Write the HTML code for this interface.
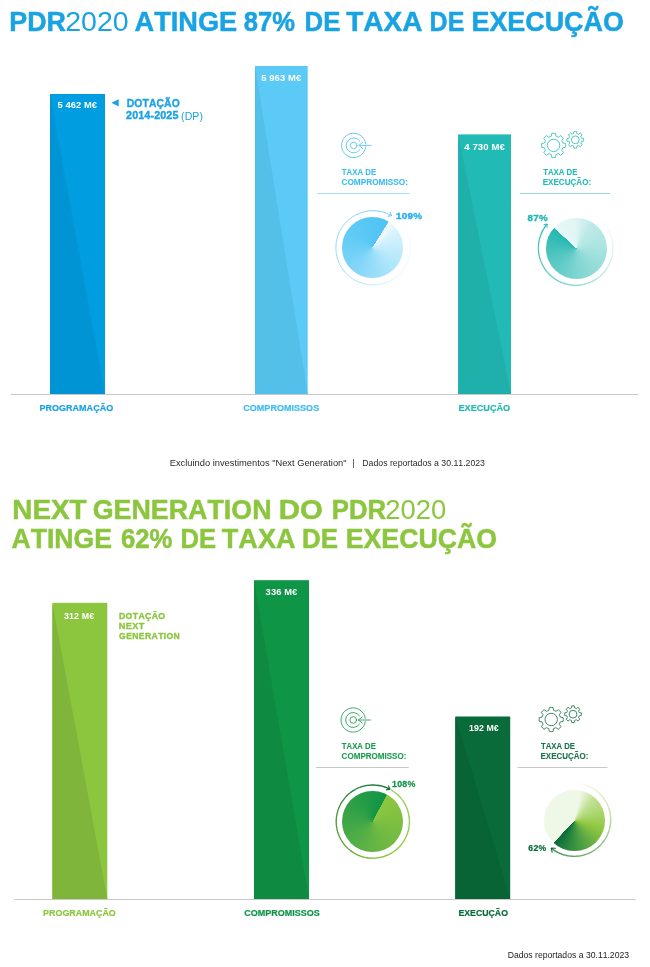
<!DOCTYPE html>
<html lang="pt"><head><meta charset="utf-8"><title>PDR2020</title>
<style>
html,body{margin:0;padding:0;background:#fff}
body{width:650px;height:967px;position:relative;overflow:hidden;font-family:"Liberation Sans",sans-serif}
svg{position:absolute;left:0;top:0}
svg text{font-family:"Liberation Sans",sans-serif;white-space:pre;font-kerning:none}
.pie{position:absolute;border-radius:50%}
</style></head><body>
<div class="pie" style="left:342.30px;top:217.00px;width:61.00px;height:61.00px;background:conic-gradient(from 32.4deg,#f6fcff 0deg,#d6f2fd 25deg,#b6e8fb 85deg,#95dcf9 150deg,#74d1f7 215deg,#5ecaf6 275deg,#50c4f4 359.2deg,#f6fcff 360deg)"></div>
<div class="pie" style="left:545.60px;top:217.60px;width:61.00px;height:61.00px;background:conic-gradient(from 313deg,#e6f7f6 0deg,#e0f5f4 45deg,#bdeae8 78deg,#a9e4e1 135deg,#7fd5d1 225deg,#45c2bd 315deg,#25b8b3 359.2deg,#e6f7f6 360deg)"></div>
<div class="pie" style="left:342.20px;top:791.40px;width:60.60px;height:60.60px;background:conic-gradient(from 28.8deg,#8cc63f 0deg,#6fb943 120deg,#3fa647 240deg,#0f9546 359.2deg,#8cc63f 360deg)"></div>
<div class="pie" style="left:544.00px;top:790.20px;width:60.60px;height:60.60px;background:conic-gradient(from 0deg,#eff7e6 0deg,#eff7e6 12deg,#c2e195 40deg,#a8d56a 75deg,#8cc63f 110deg,#5da844 150deg,#2d8a40 190deg,#0a6a3a 222.6deg,#eff7e6 223.4deg,#eff7e6 360deg)"></div>
<svg width="650" height="967" viewBox="0 0 650 967">
<path d="M11 394.5H638.4M14.4 899.5H635.2" stroke="#c8c8c8" stroke-width="1" fill="none"/>
<path d="M316 767.5H408.8M517.5 767.5H607.5" stroke="#c8c8c8" stroke-width="1" fill="none"/>
<path d="M317 193.5H409.6" stroke="#a6dff7" stroke-width="1" fill="none"/>
<path d="M520 193.5H610.4" stroke="#97dbd8" stroke-width="1" fill="none"/>
<rect x="50" y="94" width="55.00" height="300.00" fill="#009de0"/><path d="M50 94L50 394L105 394Z" fill="#0094d4"/>
<rect x="255" y="66" width="52.70" height="328.00" fill="#5bcaf6"/><path d="M255 66L255 394L307.7 394Z" fill="#53c0ea"/>
<rect x="458.2" y="134.4" width="52.80" height="259.60" fill="#22bab5"/><path d="M458.2 134.4L458.2 394L511 394Z" fill="#20b0ab"/>
<rect x="52.4" y="602.8" width="54.90" height="296.20" fill="#8cc63f"/><path d="M52.4 602.8L52.4 899L107.3 899Z" fill="#7fb53a"/>
<rect x="254" y="580.2" width="55.00" height="318.80" fill="#0f9546"/><path d="M254 580.2L254 899L309 899Z" fill="#0e8b41"/>
<rect x="455.3" y="716.5" width="54.90" height="182.50" fill="#096b39"/><path d="M455.3 716.5L455.3 899L510.2 899Z" fill="#086434"/>
<path d="M111.4 102.8L118.7 99.2V106.4Z" fill="#1aa3e2"/>
<g fill="none" stroke="#55c6f3" stroke-width="0.9" stroke-linecap="round" stroke-linejoin="round"><path d="M365.81 146.89A12.2 12.2 0 1 1 365.81 143.91"/><path d="M359.84 149.70A7.5 7.5 0 1 1 359.84 141.10"/><circle cx="353.7" cy="145.4" r="3.3"/><path d="M359.00 145.4L371.00 145.4M362.70 142.3L359.00 145.4L362.70 148.5"/></g>
<g fill="none" stroke="#3fc2bd" stroke-width="0.9" stroke-linejoin="round"><path d="M551.19 136.31L551.71 133.45A12.1 12.1 0 0 1 555.49 133.45L556.01 136.31A9.4 9.4 0 0 1 558.32 137.27L560.71 135.61A12.1 12.1 0 0 1 563.39 138.29L561.73 140.68A9.4 9.4 0 0 1 562.69 142.99L565.55 143.51A12.1 12.1 0 0 1 565.55 147.29L562.69 147.81A9.4 9.4 0 0 1 561.73 150.12L563.39 152.51A12.1 12.1 0 0 1 560.71 155.19L558.32 153.53A9.4 9.4 0 0 1 556.01 154.49L555.49 157.35A12.1 12.1 0 0 1 551.71 157.35L551.19 154.49A9.4 9.4 0 0 1 548.88 153.53L546.49 155.19A12.1 12.1 0 0 1 543.81 152.51L545.47 150.12A9.4 9.4 0 0 1 544.51 147.81L541.65 147.29A12.1 12.1 0 0 1 541.65 143.51L544.51 142.99A9.4 9.4 0 0 1 545.47 140.68L543.81 138.29A12.1 12.1 0 0 1 546.49 135.61L548.88 137.27A9.4 9.4 0 0 1 551.19 136.31Z"/><circle cx="553.6" cy="145.4" r="6.2"/><path d="M573.66 133.61L573.99 131.50A8.4 8.4 0 0 1 576.61 131.50L576.94 133.61A6.4 6.4 0 0 1 578.51 134.27L580.24 133.00A8.4 8.4 0 0 1 582.10 134.86L580.83 136.59A6.4 6.4 0 0 1 581.49 138.16L583.60 138.49A8.4 8.4 0 0 1 583.60 141.11L581.49 141.44A6.4 6.4 0 0 1 580.83 143.01L582.10 144.74A8.4 8.4 0 0 1 580.24 146.60L578.51 145.33A6.4 6.4 0 0 1 576.94 145.99L576.61 148.10A8.4 8.4 0 0 1 573.99 148.10L573.66 145.99A6.4 6.4 0 0 1 572.09 145.33L570.36 146.60A8.4 8.4 0 0 1 568.50 144.74L569.77 143.01A6.4 6.4 0 0 1 569.11 141.44L567.00 141.11A8.4 8.4 0 0 1 567.00 138.49L569.11 138.16A6.4 6.4 0 0 1 569.77 136.59L568.50 134.86A8.4 8.4 0 0 1 570.36 133.00L572.09 134.27A6.4 6.4 0 0 1 573.66 133.61Z"/><circle cx="575.3" cy="139.8" r="3.9"/></g>
<g fill="none" stroke="#2aa25b" stroke-width="0.9" stroke-linecap="round" stroke-linejoin="round"><path d="M365.31 721.49A12.2 12.2 0 1 1 365.31 718.51"/><path d="M359.34 724.30A7.5 7.5 0 1 1 359.34 715.70"/><circle cx="353.2" cy="720" r="3.3"/><path d="M358.50 720L370.50 720M362.20 716.9L358.50 720L362.20 723.1"/></g>
<g fill="none" stroke="#2d7d55" stroke-width="0.9" stroke-linejoin="round"><path d="M548.79 710.41L549.31 707.55A12.1 12.1 0 0 1 553.09 707.55L553.61 710.41A9.4 9.4 0 0 1 555.92 711.37L558.31 709.71A12.1 12.1 0 0 1 560.99 712.39L559.33 714.78A9.4 9.4 0 0 1 560.29 717.09L563.15 717.61A12.1 12.1 0 0 1 563.15 721.39L560.29 721.91A9.4 9.4 0 0 1 559.33 724.22L560.99 726.61A12.1 12.1 0 0 1 558.31 729.29L555.92 727.63A9.4 9.4 0 0 1 553.61 728.59L553.09 731.45A12.1 12.1 0 0 1 549.31 731.45L548.79 728.59A9.4 9.4 0 0 1 546.48 727.63L544.09 729.29A12.1 12.1 0 0 1 541.41 726.61L543.07 724.22A9.4 9.4 0 0 1 542.11 721.91L539.25 721.39A12.1 12.1 0 0 1 539.25 717.61L542.11 717.09A9.4 9.4 0 0 1 543.07 714.78L541.41 712.39A12.1 12.1 0 0 1 544.09 709.71L546.48 711.37A9.4 9.4 0 0 1 548.79 710.41Z"/><circle cx="551.2" cy="719.5" r="6.2"/><path d="M571.36 708.01L571.69 705.90A8.4 8.4 0 0 1 574.31 705.90L574.64 708.01A6.4 6.4 0 0 1 576.21 708.67L577.94 707.40A8.4 8.4 0 0 1 579.80 709.26L578.53 710.99A6.4 6.4 0 0 1 579.19 712.56L581.30 712.89A8.4 8.4 0 0 1 581.30 715.51L579.19 715.84A6.4 6.4 0 0 1 578.53 717.41L579.80 719.14A8.4 8.4 0 0 1 577.94 721.00L576.21 719.73A6.4 6.4 0 0 1 574.64 720.39L574.31 722.50A8.4 8.4 0 0 1 571.69 722.50L571.36 720.39A6.4 6.4 0 0 1 569.79 719.73L568.06 721.00A8.4 8.4 0 0 1 566.20 719.14L567.47 717.41A6.4 6.4 0 0 1 566.81 715.84L564.70 715.51A8.4 8.4 0 0 1 564.70 712.89L566.81 712.56A6.4 6.4 0 0 1 567.47 710.99L566.20 709.26A8.4 8.4 0 0 1 568.06 707.40L569.79 708.67A6.4 6.4 0 0 1 571.36 708.01Z"/><circle cx="573" cy="714.2" r="3.9"/></g>
<g fill="none" stroke-width="1.0"><path d="M397.05 219.55A37.1 37.1 0 0 1 399.18 221.52" stroke="#ffffff"/><path d="M398.91 221.24A37.1 37.1 0 0 1 400.91 223.35" stroke="#feffff"/><path d="M400.65 223.06A37.1 37.1 0 0 1 402.50 225.30" stroke="#fdfeff"/><path d="M402.26 224.99A37.1 37.1 0 0 1 403.96 227.35" stroke="#fcfeff"/><path d="M403.74 227.03A37.1 37.1 0 0 1 405.27 229.50" stroke="#fbfeff"/><path d="M405.08 229.16A37.1 37.1 0 0 1 406.44 231.73" stroke="#fafdff"/><path d="M406.27 231.38A37.1 37.1 0 0 1 407.45 234.04" stroke="#f9fdff"/><path d="M407.31 233.68A37.1 37.1 0 0 1 408.31 236.40" stroke="#f8fdff"/><path d="M408.19 236.03A37.1 37.1 0 0 1 409.00 238.82" stroke="#f7fcff"/><path d="M408.90 238.45A37.1 37.1 0 0 1 409.52 241.29" stroke="#f6fcff"/><path d="M409.45 240.90A37.1 37.1 0 0 1 409.88 243.78" stroke="#f5fcff"/><path d="M409.84 243.39A37.1 37.1 0 0 1 410.07 246.29" stroke="#f4fcff"/><path d="M410.05 245.90A37.1 37.1 0 0 1 410.09 248.81" stroke="#f3fbff"/><path d="M410.09 248.42A37.1 37.1 0 0 1 409.93 251.32" stroke="#f2fbfe"/><path d="M409.97 250.93A37.1 37.1 0 0 1 409.61 253.82" stroke="#f2fbfe"/><path d="M409.67 253.43A37.1 37.1 0 0 1 409.12 256.29" stroke="#f1fafe"/><path d="M409.20 255.91A37.1 37.1 0 0 1 408.46 258.72" stroke="#f0fafe"/><path d="M408.57 258.34A37.1 37.1 0 0 1 407.64 261.10" stroke="#effafe"/><path d="M407.77 260.73A37.1 37.1 0 0 1 406.65 263.41" stroke="#eefafe"/><path d="M406.82 263.06A37.1 37.1 0 0 1 405.52 265.66" stroke="#edf9fe"/><path d="M405.70 265.32A37.1 37.1 0 0 1 404.23 267.82" stroke="#ecf9fe"/><path d="M404.44 267.50A37.1 37.1 0 0 1 402.80 269.90" stroke="#ebf9fe"/><path d="M403.03 269.58A37.1 37.1 0 0 1 401.23 271.87" stroke="#eaf8fe"/><path d="M401.48 271.57A37.1 37.1 0 0 1 399.54 273.73" stroke="#e9f8fe"/><path d="M399.81 273.45A37.1 37.1 0 0 1 397.72 275.47" stroke="#e8f8fe"/><path d="M398.01 275.21A37.1 37.1 0 0 1 395.78 277.08" stroke="#e7f7fe"/><path d="M396.09 276.84A37.1 37.1 0 0 1 393.75 278.56" stroke="#e6f7fe"/><path d="M394.07 278.34A37.1 37.1 0 0 1 391.61 279.89" stroke="#e4f6fe"/><path d="M391.95 279.70A37.1 37.1 0 0 1 389.39 281.08" stroke="#e1f5fe"/><path d="M389.74 280.91A37.1 37.1 0 0 1 387.10 282.12" stroke="#def4fd"/><path d="M387.46 281.97A37.1 37.1 0 0 1 384.74 282.99" stroke="#daf3fd"/><path d="M385.11 282.87A37.1 37.1 0 0 1 382.32 283.71" stroke="#d7f2fd"/><path d="M382.70 283.61A37.1 37.1 0 0 1 379.87 284.26" stroke="#d3f1fd"/><path d="M380.25 284.19A37.1 37.1 0 0 1 377.38 284.64" stroke="#d0effd"/><path d="M377.76 284.59A37.1 37.1 0 0 1 374.87 284.85" stroke="#cdeefc"/><path d="M375.26 284.83A37.1 37.1 0 0 1 372.35 284.89" stroke="#c9edfc"/><path d="M372.74 284.90A37.1 37.1 0 0 1 369.84 284.77" stroke="#c6ecfc"/><path d="M370.23 284.80A37.1 37.1 0 0 1 367.34 284.47" stroke="#c2ebfc"/><path d="M367.72 284.52A37.1 37.1 0 0 1 364.86 284.00" stroke="#bfeafb"/><path d="M365.24 284.08A37.1 37.1 0 0 1 362.43 283.36" stroke="#bce8fb"/><path d="M362.80 283.47A37.1 37.1 0 0 1 360.04 282.56" stroke="#b8e7fb"/><path d="M360.41 282.70A37.1 37.1 0 0 1 357.71 281.60" stroke="#b5e6fb"/><path d="M358.07 281.76A37.1 37.1 0 0 1 355.46 280.49" stroke="#b1e5fb"/><path d="M355.80 280.67A37.1 37.1 0 0 1 353.28 279.22" stroke="#aee4fa"/><path d="M353.61 279.43A37.1 37.1 0 0 1 351.19 277.81" stroke="#abe3fa"/><path d="M351.51 278.04A37.1 37.1 0 0 1 349.21 276.27" stroke="#a8e2fa"/><path d="M349.51 276.51A37.1 37.1 0 0 1 347.33 274.59" stroke="#a7e1fa"/><path d="M347.61 274.85A37.1 37.1 0 0 1 345.57 272.78" stroke="#a6e1fa"/><path d="M345.84 273.07A37.1 37.1 0 0 1 343.94 270.87" stroke="#a5e1fa"/><path d="M344.19 271.17A37.1 37.1 0 0 1 342.45 268.84" stroke="#a4e0fa"/><path d="M342.67 269.16A37.1 37.1 0 0 1 341.09 266.72" stroke="#a3e0fa"/><path d="M341.29 267.06A37.1 37.1 0 0 1 339.88 264.51" stroke="#a2e0fa"/><path d="M340.06 264.86A37.1 37.1 0 0 1 338.82 262.23" stroke="#a1dffa"/><path d="M338.97 262.59A37.1 37.1 0 0 1 337.92 259.88" stroke="#a0dff9"/><path d="M338.05 260.25A37.1 37.1 0 0 1 337.18 257.47" stroke="#9fdff9"/><path d="M337.29 257.85A37.1 37.1 0 0 1 336.61 255.02" stroke="#9edef9"/><path d="M336.69 255.40A37.1 37.1 0 0 1 336.20 252.54" stroke="#9ddef9"/><path d="M336.26 252.92A37.1 37.1 0 0 1 335.97 250.03" stroke="#9cdef9"/><path d="M335.99 250.42A37.1 37.1 0 0 1 335.90 247.51" stroke="#9bddf9"/><path d="M335.90 247.90A37.1 37.1 0 0 1 336.01 245.00" stroke="#9addf9"/><path d="M335.98 245.38A37.1 37.1 0 0 1 336.28 242.49" stroke="#99dcf9"/><path d="M336.23 242.88A37.1 37.1 0 0 1 336.73 240.02" stroke="#98dcf9"/><path d="M336.65 240.40A37.1 37.1 0 0 1 337.34 237.57" stroke="#97dcf9"/><path d="M337.23 237.95A37.1 37.1 0 0 1 338.11 235.18" stroke="#96dbf9"/><path d="M337.98 235.54A37.1 37.1 0 0 1 339.05 232.84" stroke="#95dbf9"/><path d="M338.89 233.20A37.1 37.1 0 0 1 340.14 230.57" stroke="#94dbf9"/><path d="M339.96 230.92A37.1 37.1 0 0 1 341.39 228.38" stroke="#93daf9"/><path d="M341.18 228.72A37.1 37.1 0 0 1 342.78 226.29" stroke="#92daf8"/><path d="M342.55 226.60A37.1 37.1 0 0 1 344.30 224.28" stroke="#90daf8"/><path d="M344.06 224.59A37.1 37.1 0 0 1 345.97 222.39" stroke="#8fd9f8"/><path d="M345.70 222.68A37.1 37.1 0 0 1 347.75 220.62" stroke="#8ed9f8"/><path d="M347.47 220.88A37.1 37.1 0 0 1 349.65 218.97" stroke="#8dd9f8"/><path d="M349.35 219.21A37.1 37.1 0 0 1 351.66 217.45" stroke="#8cd8f8"/><path d="M351.34 217.68A37.1 37.1 0 0 1 353.77 216.07" stroke="#8bd8f8"/><path d="M353.44 216.28A37.1 37.1 0 0 1 355.96 214.84" stroke="#8ad8f8"/><path d="M355.62 215.02A37.1 37.1 0 0 1 358.24 213.76" stroke="#89d7f8"/><path d="M357.88 213.92A37.1 37.1 0 0 1 360.58 212.84" stroke="#88d7f8"/><path d="M360.22 212.97A37.1 37.1 0 0 1 362.98 212.08" stroke="#87d6f8"/><path d="M362.61 212.19A37.1 37.1 0 0 1 365.43 211.48" stroke="#86d6f8"/><path d="M365.05 211.56A37.1 37.1 0 0 1 367.91 211.05" stroke="#85d6f8"/><path d="M367.52 211.11A37.1 37.1 0 0 1 370.41 210.79" stroke="#84d5f8"/><path d="M370.02 210.82A37.1 37.1 0 0 1 372.93 210.70" stroke="#83d5f8"/><path d="M372.54 210.70A37.1 37.1 0 0 1 375.44 210.78" stroke="#82d5f8"/><path d="M375.06 210.76A37.1 37.1 0 0 1 377.95 211.03" stroke="#81d4f7"/><path d="M377.56 210.98A37.1 37.1 0 0 1 380.43 211.45" stroke="#80d4f7"/><path d="M380.05 211.38A37.1 37.1 0 0 1 382.88 212.04" stroke="#7fd4f7"/><path d="M382.50 211.94A37.1 37.1 0 0 1 385.28 212.79" stroke="#7ed3f7"/><path d="M384.92 212.67A37.1 37.1 0 0 1 387.63 213.71" stroke="#7dd3f7"/><path d="M387.27 213.55A37.1 37.1 0 0 1 389.91 214.78" stroke="#7cd3f7"/><path d="M389.56 214.60A37.1 37.1 0 0 1 391.77 215.80" stroke="#7bd2f7"/></g>
<path d="M390.20 212.33L391.55 215.67L387.99 216.17" fill="none" stroke="#62c9f5" stroke-width="1.0" stroke-linecap="round" stroke-linejoin="round"/>
<g fill="none" stroke-width="1.2"><path d="M599.68 219.43A37.3 37.3 0 0 1 601.42 220.99" stroke="#feffff"/><path d="M601.14 220.72A37.3 37.3 0 0 1 602.80 222.37" stroke="#fcfefe"/><path d="M602.53 222.09A37.3 37.3 0 0 1 604.11 223.83" stroke="#fafdfd"/><path d="M603.85 223.53A37.3 37.3 0 0 1 605.33 225.34" stroke="#f8fdfd"/><path d="M605.09 225.04A37.3 37.3 0 0 1 606.48 226.93" stroke="#f6fcfc"/><path d="M606.25 226.61A37.3 37.3 0 0 1 607.54 228.57" stroke="#f4fcfb"/><path d="M607.33 228.23A37.3 37.3 0 0 1 608.51 230.26" stroke="#f2fbfb"/><path d="M608.32 229.92A37.3 37.3 0 0 1 609.39 232.00" stroke="#f0fafa"/><path d="M609.23 231.65A37.3 37.3 0 0 1 610.19 233.79" stroke="#eefaf9"/><path d="M610.03 233.43A37.3 37.3 0 0 1 610.88 235.61" stroke="#ecf9f9"/><path d="M610.75 235.24A37.3 37.3 0 0 1 611.48 237.47" stroke="#eaf8f8"/><path d="M611.37 237.09A37.3 37.3 0 0 1 611.98 239.36" stroke="#e9f8f7"/><path d="M611.89 238.98A37.3 37.3 0 0 1 612.39 241.27" stroke="#e7f7f7"/><path d="M612.31 240.88A37.3 37.3 0 0 1 612.69 243.20" stroke="#e5f7f6"/><path d="M612.64 242.81A37.3 37.3 0 0 1 612.89 245.14" stroke="#e3f6f5"/><path d="M612.86 244.75A37.3 37.3 0 0 1 612.99 247.09" stroke="#e1f5f5"/><path d="M612.98 246.70A37.3 37.3 0 0 1 612.99 249.04" stroke="#dff5f4"/><path d="M612.99 248.65A37.3 37.3 0 0 1 612.88 250.99" stroke="#ddf4f3"/><path d="M612.91 250.60A37.3 37.3 0 0 1 612.67 252.93" stroke="#dbf3f3"/><path d="M612.72 252.55A37.3 37.3 0 0 1 612.36 254.86" stroke="#d9f3f2"/><path d="M612.43 254.48A37.3 37.3 0 0 1 611.95 256.77" stroke="#d7f2f1"/><path d="M612.04 256.39A37.3 37.3 0 0 1 611.45 258.66" stroke="#d5f2f1"/><path d="M611.56 258.28A37.3 37.3 0 0 1 610.84 260.51" stroke="#d3f1f0"/><path d="M610.97 260.14A37.3 37.3 0 0 1 610.14 262.33" stroke="#d0f0ef"/><path d="M610.28 261.97A37.3 37.3 0 0 1 609.34 264.12" stroke="#cdefee"/><path d="M609.51 263.76A37.3 37.3 0 0 1 608.45 265.86" stroke="#c9eeed"/><path d="M608.63 265.51A37.3 37.3 0 0 1 607.47 267.54" stroke="#c6edeb"/><path d="M607.67 267.21A37.3 37.3 0 0 1 606.40 269.18" stroke="#c3ecea"/><path d="M606.62 268.86A37.3 37.3 0 0 1 605.25 270.76" stroke="#c0ebe9"/><path d="M605.49 270.45A37.3 37.3 0 0 1 604.02 272.27" stroke="#bdeae8"/><path d="M604.27 271.98A37.3 37.3 0 0 1 602.71 273.72" stroke="#bae9e7"/><path d="M602.98 273.44A37.3 37.3 0 0 1 601.33 275.10" stroke="#b6e8e6"/><path d="M601.61 274.83A37.3 37.3 0 0 1 599.87 276.41" stroke="#b3e7e5"/><path d="M600.17 276.15A37.3 37.3 0 0 1 598.36 277.63" stroke="#b0e5e3"/><path d="M598.66 277.39A37.3 37.3 0 0 1 596.77 278.78" stroke="#ade4e2"/><path d="M597.09 278.55A37.3 37.3 0 0 1 595.13 279.84" stroke="#aae3e1"/><path d="M595.47 279.63A37.3 37.3 0 0 1 593.44 280.81" stroke="#a7e2e0"/><path d="M593.78 280.62A37.3 37.3 0 0 1 591.70 281.69" stroke="#a3e1df"/><path d="M592.05 281.53A37.3 37.3 0 0 1 589.91 282.49" stroke="#a0e0de"/><path d="M590.27 282.33A37.3 37.3 0 0 1 588.09 283.18" stroke="#9ddfdd"/><path d="M588.46 283.05A37.3 37.3 0 0 1 586.23 283.78" stroke="#9adedb"/><path d="M586.61 283.67A37.3 37.3 0 0 1 584.34 284.28" stroke="#97ddda"/><path d="M584.72 284.19A37.3 37.3 0 0 1 582.43 284.69" stroke="#94dcd9"/><path d="M582.82 284.61A37.3 37.3 0 0 1 580.50 284.99" stroke="#90dbd8"/><path d="M580.89 284.94A37.3 37.3 0 0 1 578.56 285.19" stroke="#8ddad7"/><path d="M578.95 285.16A37.3 37.3 0 0 1 576.61 285.29" stroke="#8ad9d6"/><path d="M577.00 285.28A37.3 37.3 0 0 1 574.66 285.29" stroke="#87d8d5"/><path d="M575.05 285.29A37.3 37.3 0 0 1 572.71 285.18" stroke="#84d7d3"/><path d="M573.10 285.21A37.3 37.3 0 0 1 570.77 284.97" stroke="#80d6d2"/><path d="M571.15 285.02A37.3 37.3 0 0 1 568.84 284.66" stroke="#7dd5d1"/><path d="M569.22 284.73A37.3 37.3 0 0 1 566.93 284.25" stroke="#7ad4d0"/><path d="M567.31 284.34A37.3 37.3 0 0 1 565.04 283.75" stroke="#77d3cf"/><path d="M565.42 283.86A37.3 37.3 0 0 1 563.19 283.14" stroke="#74d2ce"/><path d="M563.56 283.27A37.3 37.3 0 0 1 561.37 282.44" stroke="#71d1cd"/><path d="M561.73 282.58A37.3 37.3 0 0 1 559.58 281.64" stroke="#6ed0cc"/><path d="M559.94 281.81A37.3 37.3 0 0 1 557.84 280.75" stroke="#6ccfcb"/><path d="M558.19 280.93A37.3 37.3 0 0 1 556.16 279.77" stroke="#6bcfcb"/><path d="M556.49 279.97A37.3 37.3 0 0 1 554.52 278.70" stroke="#69ceca"/><path d="M554.84 278.92A37.3 37.3 0 0 1 552.94 277.55" stroke="#67cec9"/><path d="M553.25 277.79A37.3 37.3 0 0 1 551.43 276.32" stroke="#65cdc9"/><path d="M551.72 276.57A37.3 37.3 0 0 1 549.98 275.01" stroke="#63ccc8"/><path d="M550.26 275.28A37.3 37.3 0 0 1 548.60 273.63" stroke="#62ccc8"/><path d="M548.87 273.91A37.3 37.3 0 0 1 547.29 272.17" stroke="#60cbc7"/><path d="M547.55 272.47A37.3 37.3 0 0 1 546.07 270.66" stroke="#5ecbc6"/><path d="M546.31 270.96A37.3 37.3 0 0 1 544.92 269.07" stroke="#5ccac6"/><path d="M545.15 269.39A37.3 37.3 0 0 1 543.86 267.43" stroke="#5bcac5"/><path d="M544.07 267.77A37.3 37.3 0 0 1 542.89 265.74" stroke="#59c9c5"/><path d="M543.08 266.08A37.3 37.3 0 0 1 542.01 264.00" stroke="#57c8c4"/><path d="M542.17 264.35A37.3 37.3 0 0 1 541.21 262.21" stroke="#55c8c4"/><path d="M541.37 262.57A37.3 37.3 0 0 1 540.52 260.39" stroke="#53c7c3"/><path d="M540.65 260.76A37.3 37.3 0 0 1 539.92 258.53" stroke="#52c7c2"/><path d="M540.03 258.91A37.3 37.3 0 0 1 539.42 256.64" stroke="#50c6c2"/><path d="M539.51 257.02A37.3 37.3 0 0 1 539.01 254.73" stroke="#4ec6c1"/><path d="M539.09 255.12A37.3 37.3 0 0 1 538.71 252.80" stroke="#4cc5c1"/><path d="M538.76 253.19A37.3 37.3 0 0 1 538.51 250.86" stroke="#4bc5c0"/><path d="M538.54 251.25A37.3 37.3 0 0 1 538.41 248.91" stroke="#49c4bf"/><path d="M538.42 249.30A37.3 37.3 0 0 1 538.41 246.96" stroke="#47c4bf"/><path d="M538.41 247.35A37.3 37.3 0 0 1 538.52 245.01" stroke="#45c3be"/><path d="M538.49 245.40A37.3 37.3 0 0 1 538.73 243.07" stroke="#43c2be"/><path d="M538.68 243.45A37.3 37.3 0 0 1 539.04 241.14" stroke="#42c2bd"/><path d="M538.97 241.52A37.3 37.3 0 0 1 539.45 239.23" stroke="#40c1bd"/><path d="M539.36 239.61A37.3 37.3 0 0 1 539.95 237.34" stroke="#3ec1bc"/><path d="M539.84 237.72A37.3 37.3 0 0 1 540.56 235.49" stroke="#3cc0bb"/><path d="M540.43 235.86A37.3 37.3 0 0 1 541.26 233.67" stroke="#3bc0bb"/><path d="M541.12 234.03A37.3 37.3 0 0 1 542.06 231.88" stroke="#39bfba"/><path d="M541.89 232.24A37.3 37.3 0 0 1 542.95 230.14" stroke="#37beba"/><path d="M542.77 230.49A37.3 37.3 0 0 1 543.93 228.46" stroke="#35beb9"/><path d="M543.73 228.79A37.3 37.3 0 0 1 545.00 226.82" stroke="#33bdb8"/><path d="M544.78 227.14A37.3 37.3 0 0 1 546.15 225.24" stroke="#32bdb8"/><path d="M545.91 225.55A37.3 37.3 0 0 1 547.13 224.02" stroke="#30bcb7"/></g>
<path d="M543.90 224.71L547.13 224.02L547.01 227.32" fill="none" stroke="#2fbcb7" stroke-width="1.0" stroke-linecap="round" stroke-linejoin="round"/>
<g fill="none" stroke-width="1.3"><path d="M390.99 789.84A36.6 36.6 0 0 1 393.46 791.39" stroke="#9fd05e"/><path d="M393.14 791.17A36.6 36.6 0 0 1 395.50 792.89" stroke="#9ed05d"/><path d="M395.20 792.65A36.6 36.6 0 0 1 397.43 794.53" stroke="#9dcf5c"/><path d="M397.15 794.27A36.6 36.6 0 0 1 399.25 796.30" stroke="#9dcf5b"/><path d="M398.98 796.02A36.6 36.6 0 0 1 400.93 798.19" stroke="#9ccf5a"/><path d="M400.69 797.90A36.6 36.6 0 0 1 402.48 800.19" stroke="#9cce59"/><path d="M402.26 799.88A36.6 36.6 0 0 1 403.89 802.30" stroke="#9bce58"/><path d="M403.69 801.97A36.6 36.6 0 0 1 405.16 804.49" stroke="#9ace57"/><path d="M404.97 804.15A36.6 36.6 0 0 1 406.26 806.77" stroke="#9acd56"/><path d="M406.10 806.42A36.6 36.6 0 0 1 407.21 809.12" stroke="#99cd55"/><path d="M407.07 808.76A36.6 36.6 0 0 1 407.99 811.53" stroke="#99cd54"/><path d="M407.88 811.16A36.6 36.6 0 0 1 408.60 813.99" stroke="#98cc53"/><path d="M408.52 813.62A36.6 36.6 0 0 1 409.04 816.49" stroke="#97cc52"/><path d="M408.99 816.11A36.6 36.6 0 0 1 409.31 819.00" stroke="#97cc51"/><path d="M409.28 818.62A36.6 36.6 0 0 1 409.40 821.54" stroke="#96cb50"/><path d="M409.40 821.15A36.6 36.6 0 0 1 409.32 824.07" stroke="#96cb4f"/><path d="M409.34 823.69A36.6 36.6 0 0 1 409.06 826.59" stroke="#95cb4e"/><path d="M409.11 826.21A36.6 36.6 0 0 1 408.63 829.08" stroke="#94ca4d"/><path d="M408.70 828.71A36.6 36.6 0 0 1 408.02 831.54" stroke="#94ca4c"/><path d="M408.13 831.18A36.6 36.6 0 0 1 407.25 833.96" stroke="#93ca4b"/><path d="M407.38 833.60A36.6 36.6 0 0 1 406.31 836.31" stroke="#93c94a"/><path d="M406.47 835.96A36.6 36.6 0 0 1 405.22 838.59" stroke="#92c949"/><path d="M405.39 838.25A36.6 36.6 0 0 1 403.96 840.80" stroke="#91c948"/><path d="M404.16 840.47A36.6 36.6 0 0 1 402.56 842.91" stroke="#91c947"/><path d="M402.78 842.59A36.6 36.6 0 0 1 401.01 844.91" stroke="#90c846"/><path d="M401.26 844.62A36.6 36.6 0 0 1 399.33 846.81" stroke="#90c845"/><path d="M399.60 846.53A36.6 36.6 0 0 1 397.53 848.58" stroke="#8fc844"/><path d="M397.81 848.32A36.6 36.6 0 0 1 395.60 850.23" stroke="#8ec743"/><path d="M395.90 849.99A36.6 36.6 0 0 1 393.57 851.74" stroke="#8ec742"/><path d="M393.88 851.52A36.6 36.6 0 0 1 391.43 853.10" stroke="#8dc741"/><path d="M391.76 852.91A36.6 36.6 0 0 1 389.21 854.32" stroke="#8dc640"/><path d="M389.55 854.14A36.6 36.6 0 0 1 386.90 855.37" stroke="#8cc63f"/><path d="M387.26 855.22A36.6 36.6 0 0 1 384.53 856.27" stroke="#8ac43f"/><path d="M384.90 856.14A36.6 36.6 0 0 1 382.11 857.00" stroke="#88c33f"/><path d="M382.48 856.90A36.6 36.6 0 0 1 379.64 857.56" stroke="#85c13f"/><path d="M380.01 857.48A36.6 36.6 0 0 1 377.13 857.94" stroke="#83c03f"/><path d="M377.51 857.90A36.6 36.6 0 0 1 374.61 858.16" stroke="#81be3f"/><path d="M374.99 858.13A36.6 36.6 0 0 1 372.08 858.19" stroke="#7fbd3e"/><path d="M372.46 858.20A36.6 36.6 0 0 1 369.55 858.06" stroke="#7dbb3e"/><path d="M369.93 858.09A36.6 36.6 0 0 1 367.03 857.74" stroke="#7bba3e"/><path d="M367.41 857.80A36.6 36.6 0 0 1 364.55 857.26" stroke="#78b83e"/><path d="M364.92 857.34A36.6 36.6 0 0 1 362.10 856.60" stroke="#76b63e"/><path d="M362.47 856.71A36.6 36.6 0 0 1 359.70 855.78" stroke="#74b53e"/><path d="M360.06 855.91A36.6 36.6 0 0 1 357.37 854.79" stroke="#72b33e"/><path d="M357.72 854.95A36.6 36.6 0 0 1 355.11 853.64" stroke="#70b23e"/><path d="M355.45 853.83A36.6 36.6 0 0 1 352.94 852.34" stroke="#6eb03e"/><path d="M353.26 852.55A36.6 36.6 0 0 1 350.86 850.89" stroke="#6baf3e"/><path d="M351.17 851.12A36.6 36.6 0 0 1 348.88 849.31" stroke="#69ad3e"/><path d="M349.18 849.55A36.6 36.6 0 0 1 347.03 847.59" stroke="#67ac3e"/><path d="M347.30 847.85A36.6 36.6 0 0 1 345.29 845.74" stroke="#65aa3d"/><path d="M345.54 846.03A36.6 36.6 0 0 1 343.69 843.78" stroke="#63a83d"/><path d="M343.92 844.08A36.6 36.6 0 0 1 342.22 841.71" stroke="#61a73d"/><path d="M342.43 842.03A36.6 36.6 0 0 1 340.90 839.55" stroke="#5ea53d"/><path d="M341.09 839.88A36.6 36.6 0 0 1 339.74 837.30" stroke="#5ca43d"/><path d="M339.90 837.64A36.6 36.6 0 0 1 338.73 834.97" stroke="#5aa23d"/><path d="M338.87 835.33A36.6 36.6 0 0 1 337.89 832.59" stroke="#58a13d"/><path d="M338.00 832.95A36.6 36.6 0 0 1 337.21 830.14" stroke="#569f3d"/><path d="M337.30 830.52A36.6 36.6 0 0 1 336.71 827.66" stroke="#549e3d"/><path d="M336.77 828.04A36.6 36.6 0 0 1 336.37 825.15" stroke="#519c3d"/><path d="M336.41 825.53A36.6 36.6 0 0 1 336.21 822.62" stroke="#4f9a3d"/><path d="M336.23 823.00A36.6 36.6 0 0 1 336.23 820.09" stroke="#4d993d"/><path d="M336.22 820.47A36.6 36.6 0 0 1 336.42 817.56" stroke="#4b973c"/><path d="M336.38 817.94A36.6 36.6 0 0 1 336.79 815.06" stroke="#49963c"/><path d="M336.72 815.43A36.6 36.6 0 0 1 337.33 812.58" stroke="#47943c"/><path d="M337.24 812.95A36.6 36.6 0 0 1 338.04 810.15" stroke="#44933c"/><path d="M337.92 810.51A36.6 36.6 0 0 1 338.91 807.77" stroke="#42913c"/><path d="M338.77 808.13A36.6 36.6 0 0 1 339.95 805.46" stroke="#40903c"/><path d="M339.78 805.80A36.6 36.6 0 0 1 341.15 803.23" stroke="#3e8e3c"/><path d="M340.96 803.56A36.6 36.6 0 0 1 342.49 801.08" stroke="#3c8c3c"/><path d="M342.28 801.40A36.6 36.6 0 0 1 343.99 799.03" stroke="#3a8b3c"/><path d="M343.75 799.34A36.6 36.6 0 0 1 345.62 797.09" stroke="#37893c"/><path d="M345.36 797.38A36.6 36.6 0 0 1 347.38 795.27" stroke="#35883c"/><path d="M347.10 795.54A36.6 36.6 0 0 1 349.26 793.58" stroke="#33863b"/><path d="M348.97 793.82A36.6 36.6 0 0 1 351.25 792.02" stroke="#31853b"/><path d="M350.94 792.24A36.6 36.6 0 0 1 353.35 790.60" stroke="#2f833b"/><path d="M353.03 790.80A36.6 36.6 0 0 1 355.54 789.32" stroke="#2c823b"/><path d="M355.21 789.51A36.6 36.6 0 0 1 357.82 788.21" stroke="#2a803b"/><path d="M357.47 788.37A36.6 36.6 0 0 1 360.16 787.25" stroke="#287e3b"/><path d="M359.80 787.39A36.6 36.6 0 0 1 362.57 786.46" stroke="#267d3b"/><path d="M362.20 786.57A36.6 36.6 0 0 1 365.02 785.84" stroke="#247b3b"/><path d="M364.65 785.92A36.6 36.6 0 0 1 367.52 785.38" stroke="#227a3b"/><path d="M367.14 785.44A36.6 36.6 0 0 1 370.03 785.10" stroke="#1f783b"/><path d="M369.65 785.14A36.6 36.6 0 0 1 372.57 785.00" stroke="#1d773b"/><path d="M372.18 785.01A36.6 36.6 0 0 1 375.10 785.07" stroke="#1b753b"/><path d="M374.72 785.05A36.6 36.6 0 0 1 377.62 785.32" stroke="#19743a"/><path d="M377.24 785.27A36.6 36.6 0 0 1 380.12 785.74" stroke="#17723a"/><path d="M379.74 785.66A36.6 36.6 0 0 1 382.58 786.33" stroke="#15703a"/><path d="M382.21 786.23A36.6 36.6 0 0 1 385.00 787.09" stroke="#126f3a"/><path d="M384.64 786.97A36.6 36.6 0 0 1 387.36 788.02" stroke="#106d3a"/><path d="M387.00 787.87A36.6 36.6 0 0 1 389.30 788.93" stroke="#0e6c3a"/></g>
<path d="M388.52 786.00L389.98 789.28L386.44 789.91" fill="none" stroke="#0d6b3a" stroke-width="1.1" stroke-linecap="round" stroke-linejoin="round"/>
<g fill="none" stroke-width="1.3"><path d="M575.47 783.32A36.5 36.5 0 0 1 577.39 783.44" stroke="#fefffd"/><path d="M577.01 783.41A36.5 36.5 0 0 1 578.92 783.61" stroke="#fcfefa"/><path d="M578.54 783.56A36.5 36.5 0 0 1 580.43 783.84" stroke="#fbfdf7"/><path d="M580.06 783.77A36.5 36.5 0 0 1 581.94 784.13" stroke="#f9fcf4"/><path d="M581.57 784.05A36.5 36.5 0 0 1 583.43 784.49" stroke="#f7fbf1"/><path d="M583.06 784.39A36.5 36.5 0 0 1 584.91 784.91" stroke="#f5faee"/><path d="M584.55 784.80A36.5 36.5 0 0 1 586.37 785.39" stroke="#f3f9eb"/><path d="M586.01 785.26A36.5 36.5 0 0 1 587.81 785.93" stroke="#f2f9e8"/><path d="M587.45 785.79A36.5 36.5 0 0 1 589.22 786.53" stroke="#f0f8e5"/><path d="M588.87 786.38A36.5 36.5 0 0 1 590.61 787.20" stroke="#eef7e2"/><path d="M590.26 787.03A36.5 36.5 0 0 1 591.96 787.91" stroke="#ecf6df"/><path d="M591.63 787.73A36.5 36.5 0 0 1 593.29 788.69" stroke="#ebf5dc"/><path d="M592.96 788.49A36.5 36.5 0 0 1 594.58 789.52" stroke="#e9f4d9"/><path d="M594.26 789.31A36.5 36.5 0 0 1 595.84 790.40" stroke="#e7f4d6"/><path d="M595.53 790.18A36.5 36.5 0 0 1 597.05 791.34" stroke="#e5f3d3"/><path d="M596.76 791.10A36.5 36.5 0 0 1 598.23 792.33" stroke="#e3f2d0"/><path d="M597.94 792.08A36.5 36.5 0 0 1 599.37 793.36" stroke="#e2f1cd"/><path d="M599.09 793.10A36.5 36.5 0 0 1 600.46 794.44" stroke="#e0f0ca"/><path d="M600.19 794.17A36.5 36.5 0 0 1 601.50 795.57" stroke="#deefc7"/><path d="M601.24 795.29A36.5 36.5 0 0 1 602.49 796.74" stroke="#dceec4"/><path d="M602.25 796.45A36.5 36.5 0 0 1 603.44 797.95" stroke="#dbeec1"/><path d="M603.21 797.65A36.5 36.5 0 0 1 604.33 799.20" stroke="#d9edbe"/><path d="M604.12 798.89A36.5 36.5 0 0 1 605.17 800.49" stroke="#d7ecbb"/><path d="M604.97 800.16A36.5 36.5 0 0 1 605.96 801.81" stroke="#d5ebb8"/><path d="M605.77 801.48A36.5 36.5 0 0 1 606.69 803.16" stroke="#d3eab5"/><path d="M606.51 802.82A36.5 36.5 0 0 1 607.36 804.54" stroke="#d2e9b2"/><path d="M607.20 804.20A36.5 36.5 0 0 1 607.97 805.95" stroke="#d0e8af"/><path d="M607.82 805.60A36.5 36.5 0 0 1 608.52 807.38" stroke="#cee7ac"/><path d="M608.39 807.02A36.5 36.5 0 0 1 609.01 808.84" stroke="#cbe6ab"/><path d="M608.90 808.47A36.5 36.5 0 0 1 609.45 810.31" stroke="#c9e4a9"/><path d="M609.34 809.94A36.5 36.5 0 0 1 609.81 811.80" stroke="#c7e3a7"/><path d="M609.73 811.43A36.5 36.5 0 0 1 610.12 813.31" stroke="#c4e1a6"/><path d="M610.05 812.93A36.5 36.5 0 0 1 610.36 814.83" stroke="#c2e0a4"/><path d="M610.31 814.45A36.5 36.5 0 0 1 610.54 816.35" stroke="#c0dea2"/><path d="M610.50 815.97A36.5 36.5 0 0 1 610.65 817.88" stroke="#bddda1"/><path d="M610.63 817.50A36.5 36.5 0 0 1 610.70 819.42" stroke="#bbdb9f"/><path d="M610.69 819.04A36.5 36.5 0 0 1 610.68 820.95" stroke="#b9da9e"/><path d="M610.69 820.57A36.5 36.5 0 0 1 610.60 822.49" stroke="#b6d89c"/><path d="M610.63 822.11A36.5 36.5 0 0 1 610.46 824.02" stroke="#b4d79a"/><path d="M610.50 823.64A36.5 36.5 0 0 1 610.25 825.54" stroke="#b1d599"/><path d="M610.30 825.16A36.5 36.5 0 0 1 609.97 827.05" stroke="#afd497"/><path d="M610.05 826.67A36.5 36.5 0 0 1 609.64 828.55" stroke="#add296"/><path d="M609.73 828.18A36.5 36.5 0 0 1 609.24 830.03" stroke="#aad194"/><path d="M609.34 829.66A36.5 36.5 0 0 1 608.78 831.50" stroke="#a8cf92"/><path d="M608.90 831.13A36.5 36.5 0 0 1 608.25 832.94" stroke="#a6ce91"/><path d="M608.39 832.58A36.5 36.5 0 0 1 607.67 834.36" stroke="#a3cc8f"/><path d="M607.82 834.01A36.5 36.5 0 0 1 607.03 835.76" stroke="#a1cb8d"/><path d="M607.19 835.41A36.5 36.5 0 0 1 606.33 837.12" stroke="#9fc98c"/><path d="M606.51 836.79A36.5 36.5 0 0 1 605.57 838.46" stroke="#9cc88a"/><path d="M605.76 838.13A36.5 36.5 0 0 1 604.76 839.76" stroke="#9ac689"/><path d="M604.96 839.44A36.5 36.5 0 0 1 603.89 841.03" stroke="#97c587"/><path d="M604.11 840.72A36.5 36.5 0 0 1 602.97 842.26" stroke="#95c385"/><path d="M603.20 841.96A36.5 36.5 0 0 1 602.00 843.45" stroke="#93c284"/><path d="M602.25 843.16A36.5 36.5 0 0 1 600.98 844.60" stroke="#90c082"/><path d="M601.24 844.32A36.5 36.5 0 0 1 599.91 845.70" stroke="#8ebf80"/><path d="M600.18 845.43A36.5 36.5 0 0 1 598.80 846.76" stroke="#8cbd7f"/><path d="M599.08 846.50A36.5 36.5 0 0 1 597.65 847.77" stroke="#89bc7d"/><path d="M597.94 847.53A36.5 36.5 0 0 1 596.45 848.74" stroke="#87ba7c"/><path d="M596.75 848.50A36.5 36.5 0 0 1 595.21 849.65" stroke="#84b97a"/><path d="M595.52 849.42A36.5 36.5 0 0 1 593.94 850.50" stroke="#82b878"/><path d="M594.26 850.30A36.5 36.5 0 0 1 592.63 851.31" stroke="#80b677"/><path d="M592.96 851.11A36.5 36.5 0 0 1 591.29 852.05" stroke="#7db575"/><path d="M591.62 851.87A36.5 36.5 0 0 1 589.91 852.74" stroke="#7bb374"/><path d="M590.26 852.58A36.5 36.5 0 0 1 588.51 853.38" stroke="#79b272"/><path d="M588.86 853.22A36.5 36.5 0 0 1 587.09 853.95" stroke="#76b070"/><path d="M587.45 853.81A36.5 36.5 0 0 1 585.64 854.46" stroke="#74af6f"/><path d="M586.00 854.34A36.5 36.5 0 0 1 584.17 854.91" stroke="#72ad6d"/><path d="M584.54 854.80A36.5 36.5 0 0 1 582.69 855.30" stroke="#6fac6b"/><path d="M583.06 855.21A36.5 36.5 0 0 1 581.19 855.63" stroke="#6daa6a"/><path d="M581.56 855.55A36.5 36.5 0 0 1 579.67 855.89" stroke="#6aa968"/><path d="M580.05 855.83A36.5 36.5 0 0 1 578.15 856.09" stroke="#68a767"/><path d="M578.53 856.04A36.5 36.5 0 0 1 576.62 856.22" stroke="#66a665"/><path d="M577.00 856.19A36.5 36.5 0 0 1 575.08 856.29" stroke="#63a463"/><path d="M575.47 856.28A36.5 36.5 0 0 1 573.55 856.29" stroke="#61a362"/><path d="M573.93 856.30A36.5 36.5 0 0 1 572.01 856.23" stroke="#5fa160"/><path d="M572.40 856.26A36.5 36.5 0 0 1 570.48 856.11" stroke="#5ca05e"/><path d="M570.86 856.15A36.5 36.5 0 0 1 568.96 855.92" stroke="#5a9e5d"/><path d="M569.34 855.97A36.5 36.5 0 0 1 567.44 855.67" stroke="#589d5b"/><path d="M567.82 855.74A36.5 36.5 0 0 1 565.94 855.35" stroke="#559b5a"/><path d="M566.31 855.44A36.5 36.5 0 0 1 564.45 854.97" stroke="#539a58"/><path d="M564.82 855.07A36.5 36.5 0 0 1 562.98 854.53" stroke="#509856"/><path d="M563.35 854.65A36.5 36.5 0 0 1 561.53 854.03" stroke="#4e9755"/><path d="M561.89 854.16A36.5 36.5 0 0 1 560.10 853.47" stroke="#4c9553"/><path d="M560.45 853.61A36.5 36.5 0 0 1 558.70 852.84" stroke="#499452"/><path d="M559.04 853.00A36.5 36.5 0 0 1 557.32 852.16" stroke="#479250"/><path d="M557.66 852.34A36.5 36.5 0 0 1 555.97 851.42" stroke="#45914e"/><path d="M556.31 851.61A36.5 36.5 0 0 1 554.66 850.63" stroke="#428f4d"/><path d="M554.98 850.83A36.5 36.5 0 0 1 553.38 849.78" stroke="#408e4b"/><path d="M553.70 850.00A36.5 36.5 0 0 1 552.14 848.88" stroke="#3e8c49"/><path d="M552.44 849.11A36.5 36.5 0 0 1 551.23 848.17" stroke="#3b8b48"/></g>
<path d="M552.17 852.26L551.23 848.17L555.43 848.24" fill="none" stroke="#0d6b3a" stroke-width="1.1" stroke-linecap="round" stroke-linejoin="round"/>
<text transform="translate(9.26 30.65) scale(0.9721 1)" font-size="27.6" font-weight="700" fill="#1aa3e2" stroke="#1aa3e2" stroke-width="0.5" stroke-linejoin="round">PDR</text>
<text transform="translate(65.16 30.70) scale(1.0276 1)" font-size="27.8" font-weight="400" fill="#1aa3e2">2020</text>
<text transform="translate(134.57 30.65) scale(0.9853 1)" font-size="27.6" font-weight="700" fill="#1aa3e2" stroke="#1aa3e2" stroke-width="0.5" stroke-linejoin="round">ATINGE</text>
<text transform="translate(243.84 30.65) scale(0.9266 1)" font-size="27.6" font-weight="700" fill="#1aa3e2" stroke="#1aa3e2" stroke-width="0.5" stroke-linejoin="round">87%</text>
<text transform="translate(304.52 30.65) scale(0.9346 1)" font-size="27.6" font-weight="700" fill="#1aa3e2" stroke="#1aa3e2" stroke-width="0.5" stroke-linejoin="round">DE</text>
<text transform="translate(346.24 30.65) scale(1.0149 1)" font-size="27.6" font-weight="700" fill="#1aa3e2" stroke="#1aa3e2" stroke-width="0.5" stroke-linejoin="round">TAXA</text>
<text transform="translate(429.58 30.65) scale(0.9064 1)" font-size="27.6" font-weight="700" fill="#1aa3e2" stroke="#1aa3e2" stroke-width="0.5" stroke-linejoin="round">DE</text>
<text transform="translate(471.45 30.65) scale(0.9745 1)" font-size="27.6" font-weight="700" fill="#1aa3e2" stroke="#1aa3e2" stroke-width="0.5" stroke-linejoin="round">EXECUÇÃO</text>
<text transform="translate(12.29 518.55) scale(1.0089 1)" font-size="27.6" font-weight="700" fill="#8cc63f" stroke="#8cc63f" stroke-width="0.5" stroke-linejoin="round">NEXT</text>
<text transform="translate(92.65 518.55) scale(0.9723 1)" font-size="27.6" font-weight="700" fill="#8cc63f" stroke="#8cc63f" stroke-width="0.5" stroke-linejoin="round">GENERATION</text>
<text transform="translate(278.68 518.55) scale(1.0679 1)" font-size="27.6" font-weight="700" fill="#8cc63f" stroke="#8cc63f" stroke-width="0.5" stroke-linejoin="round">DO</text>
<text transform="translate(331.73 518.55) scale(0.9327 1)" font-size="27.6" font-weight="700" fill="#8cc63f" stroke="#8cc63f" stroke-width="0.5" stroke-linejoin="round">PDR</text>
<text transform="translate(385.22 518.60) scale(0.9872 1)" font-size="27.8" font-weight="400" fill="#8cc63f">2020</text>
<text transform="translate(11.49 548.25) scale(0.9639 1)" font-size="27.6" font-weight="700" fill="#8cc63f" stroke="#8cc63f" stroke-width="0.5" stroke-linejoin="round">ATINGE</text>
<text transform="translate(120.91 548.25) scale(0.9308 1)" font-size="27.6" font-weight="700" fill="#8cc63f" stroke="#8cc63f" stroke-width="0.5" stroke-linejoin="round">62%</text>
<text transform="translate(180.43 548.25) scale(0.9289 1)" font-size="27.6" font-weight="700" fill="#8cc63f" stroke="#8cc63f" stroke-width="0.5" stroke-linejoin="round">DE</text>
<text transform="translate(221.85 548.25) scale(0.9798 1)" font-size="27.6" font-weight="700" fill="#8cc63f" stroke="#8cc63f" stroke-width="0.5" stroke-linejoin="round">TAXA</text>
<text transform="translate(302.01 548.25) scale(0.9402 1)" font-size="27.6" font-weight="700" fill="#8cc63f" stroke="#8cc63f" stroke-width="0.5" stroke-linejoin="round">DE</text>
<text transform="translate(345.76 548.25) scale(0.9673 1)" font-size="27.6" font-weight="700" fill="#8cc63f" stroke="#8cc63f" stroke-width="0.5" stroke-linejoin="round">EXECUÇÃO</text>
<text transform="translate(57.41 108.30) scale(0.9731 1)" font-size="9.6" font-weight="700" fill="#ffffff" letter-spacing="0.103">5 462 M€</text>
<text transform="translate(261.21 81.10) scale(0.9807 1)" font-size="9.6" font-weight="700" fill="#ffffff" letter-spacing="0.102">5 963 M€</text>
<text transform="translate(464.26 149.60) scale(0.9946 1)" font-size="9.6" font-weight="700" fill="#ffffff" letter-spacing="0.101">4 730 M€</text>
<text transform="translate(64.10 618.80) scale(0.9200 1)" font-size="9.6" font-weight="700" fill="#ffffff" letter-spacing="0.109">312 M€</text>
<text transform="translate(265.59 595.20) scale(0.9737 1)" font-size="9.6" font-weight="700" fill="#ffffff" letter-spacing="0.103">336 M€</text>
<text transform="translate(468.95 731.20) scale(0.9153 1)" font-size="9.6" font-weight="700" fill="#ffffff" letter-spacing="0.109">192 M€</text>
<text transform="translate(126.68 107.12) scale(0.9456 1)" font-size="11.0" font-weight="700" fill="#1aa3e2" stroke="#1aa3e2" stroke-width="0.35" stroke-linejoin="round" letter-spacing="0.106">DOTAÇÃO</text>
<text transform="translate(126.10 119.42) scale(0.9814 1)" font-size="11.0" font-weight="700" fill="#1aa3e2" stroke="#1aa3e2" stroke-width="0.35" stroke-linejoin="round" letter-spacing="0.102">2014-2025</text>
<text transform="translate(181.05 119.60) scale(0.9556 1)" font-size="11.0" font-weight="400" fill="#1aa3e2" letter-spacing="0.105">(DP)</text>
<text transform="translate(118.89 618.93) scale(1.0097 1)" font-size="8.6" font-weight="700" fill="#8cc63f" stroke="#8cc63f" stroke-width="0.35" stroke-linejoin="round" letter-spacing="0.396">DOTAÇÃO</text>
<text transform="translate(118.86 628.73) scale(1.0620 1)" font-size="8.6" font-weight="700" fill="#8cc63f" stroke="#8cc63f" stroke-width="0.35" stroke-linejoin="round" letter-spacing="0.377">NEXT</text>
<text transform="translate(119.12 638.53) scale(0.9955 1)" font-size="8.6" font-weight="700" fill="#8cc63f" stroke="#8cc63f" stroke-width="0.35" stroke-linejoin="round" letter-spacing="0.402">GENERATION</text>
<text transform="translate(39.50 410.90) scale(0.9715 1)" font-size="9.3" font-weight="700" fill="#1aa3e2" stroke="#1aa3e2" stroke-width="0.2" stroke-linejoin="round">PROGRAMAÇÃO</text>
<text transform="translate(243.23 410.90) scale(0.9744 1)" font-size="9.3" font-weight="700" fill="#3dbcf0" stroke="#3dbcf0" stroke-width="0.2" stroke-linejoin="round">COMPROMISSOS</text>
<text transform="translate(458.49 410.90) scale(0.9827 1)" font-size="9.3" font-weight="700" fill="#25b9b4" stroke="#25b9b4" stroke-width="0.2" stroke-linejoin="round">EXECUÇÃO</text>
<text transform="translate(43.10 916.10) scale(0.9582 1)" font-size="9.3" font-weight="700" fill="#8cc63f" stroke="#8cc63f" stroke-width="0.2" stroke-linejoin="round">PROGRAMAÇÃO</text>
<text transform="translate(244.13 916.10) scale(0.9705 1)" font-size="9.3" font-weight="700" fill="#109447" stroke="#109447" stroke-width="0.2" stroke-linejoin="round">COMPROMISSOS</text>
<text transform="translate(458.41 916.10) scale(0.9421 1)" font-size="9.3" font-weight="700" fill="#0a6a3a" stroke="#0a6a3a" stroke-width="0.2" stroke-linejoin="round">EXECUÇÃO</text>
<text transform="translate(341.76 175.15) scale(0.8931 1)" font-size="8.8" font-weight="700" fill="#3dbcf0" stroke="#3dbcf0" stroke-width="0.1" stroke-linejoin="round">TAXA DE</text>
<text transform="translate(341.51 184.75) scale(0.9385 1)" font-size="8.8" font-weight="700" fill="#3dbcf0" stroke="#3dbcf0" stroke-width="0.1" stroke-linejoin="round">COMPROMISSO:</text>
<text transform="translate(543.16 175.15) scale(0.8879 1)" font-size="8.8" font-weight="700" fill="#25b9b4" stroke="#25b9b4" stroke-width="0.1" stroke-linejoin="round">TAXA DE</text>
<text transform="translate(542.71 184.75) scale(0.9169 1)" font-size="8.8" font-weight="700" fill="#25b9b4" stroke="#25b9b4" stroke-width="0.1" stroke-linejoin="round">EXECUÇÃO:</text>
<text transform="translate(341.86 749.05) scale(0.9111 1)" font-size="8.5" font-weight="700" fill="#1b9c4e" stroke="#1b9c4e" stroke-width="0.1" stroke-linejoin="round">TAXA DE</text>
<text transform="translate(341.62 758.55) scale(0.9479 1)" font-size="8.5" font-weight="700" fill="#1b9c4e" stroke="#1b9c4e" stroke-width="0.1" stroke-linejoin="round">COMPROMISSO:</text>
<text transform="translate(540.96 749.15) scale(0.9138 1)" font-size="8.5" font-weight="700" fill="#17744a" stroke="#17744a" stroke-width="0.1" stroke-linejoin="round">TAXA DE</text>
<text transform="translate(540.52 758.95) scale(0.9392 1)" font-size="8.5" font-weight="700" fill="#17744a" stroke="#17744a" stroke-width="0.1" stroke-linejoin="round">EXECUÇÃO:</text>
<text transform="translate(395.98 219.20) scale(0.9985 1)" font-size="9.9" font-weight="700" fill="#25b1ee" stroke="#25b1ee" stroke-width="0.4" stroke-linejoin="round" letter-spacing="0.300">109%</text>
<text transform="translate(527.59 220.60) scale(0.9876 1)" font-size="9.9" font-weight="700" fill="#25b9b4" stroke="#25b9b4" stroke-width="0.4" stroke-linejoin="round" letter-spacing="0.304">87%</text>
<text transform="translate(391.97 787.17) scale(0.9374 1)" font-size="9.4" font-weight="700" fill="#109447" stroke="#109447" stroke-width="0.25" stroke-linejoin="round" letter-spacing="0.320">108%</text>
<text transform="translate(528.31 850.77) scale(0.9137 1)" font-size="9.4" font-weight="700" fill="#0a6a3a" stroke="#0a6a3a" stroke-width="0.25" stroke-linejoin="round" letter-spacing="0.328">62%</text>
<text transform="translate(169.74 466.00) scale(1.0719 1)" font-size="8.7" font-weight="400" fill="#2a2a2a">Excluindo investimentos &quot;Next Generation&quot;</text>
<text transform="translate(352.52 466.00) scale(1.0000 1)" font-size="8.7" font-weight="400" fill="#2a2a2a">|</text>
<text transform="translate(362.28 466.00) scale(1.0043 1)" font-size="8.7" font-weight="400" fill="#2a2a2a">Dados reportados a 30.11.2023</text>
<text transform="translate(507.69 957.80) scale(0.9597 1)" font-size="9.0" font-weight="400" fill="#222222">Dados reportados a 30.11.2023</text>
</svg>
</body></html>
